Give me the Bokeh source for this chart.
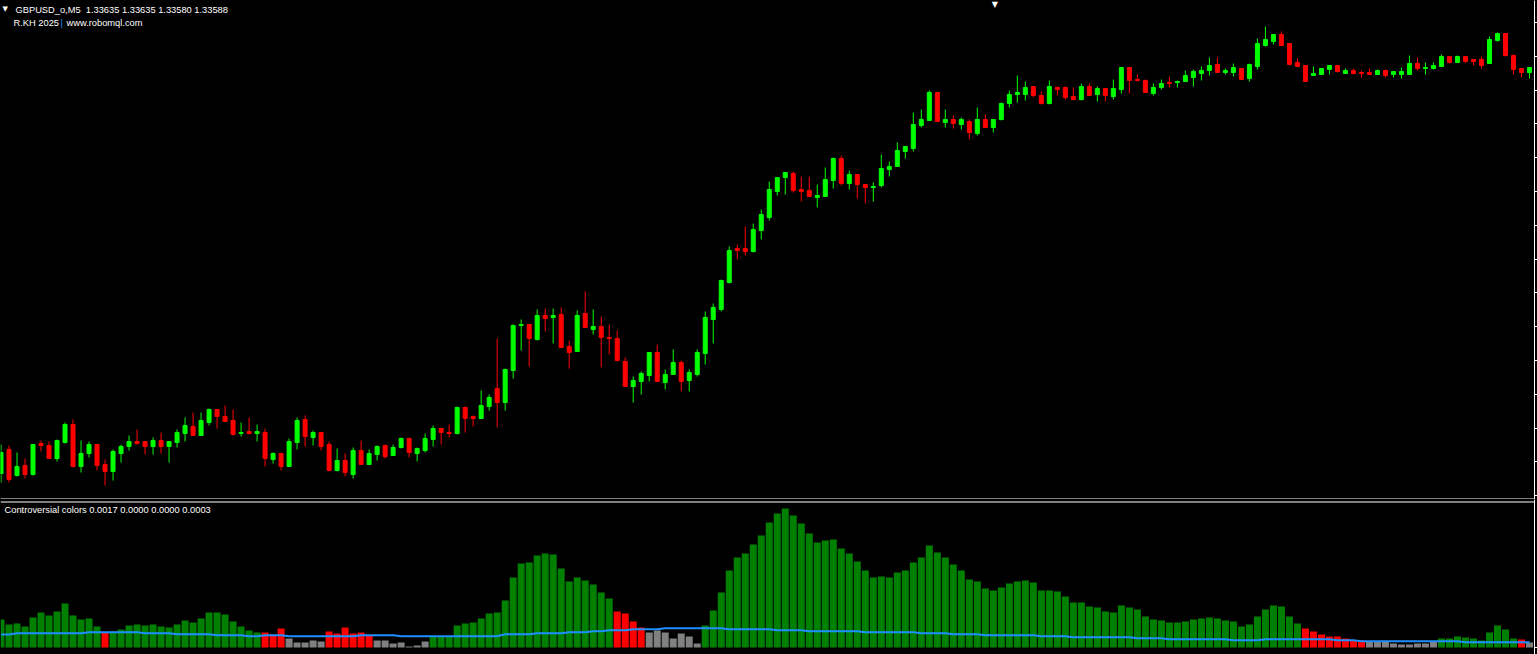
from bokeh.plotting import figure
from bokeh.models import Label, Span, FixedTicker, ColumnDataSource, Range1d, CustomJSTickFormatter
from bokeh.layouts import column
from bokeh.embed import file_html
from bokeh.resources import INLINE

# ---------------- data (GBPUSD_o, M5) ----------------
open_ = [
    1.33185, 1.33209, 1.33183, 1.33193, 1.33184, 1.33215, 1.33213, 1.33200, 1.33216, 1.33234,
    1.33192, 1.33205, 1.33214, 1.33194, 1.33187, 1.33205, 1.33212, 1.33217, 1.33217, 1.33212,
    1.33218, 1.33212, 1.33216, 1.33225, 1.33232, 1.33223, 1.33236, 1.33249, 1.33242, 1.33238,
    1.33225, 1.33227, 1.33225, 1.33226, 1.33199, 1.33205, 1.33192, 1.33216, 1.33239, 1.33221,
    1.33226, 1.33214, 1.33188, 1.33198, 1.33184, 1.33208, 1.33194, 1.33204, 1.33213, 1.33203,
    1.33211, 1.33220, 1.33205, 1.33208, 1.33219, 1.33230, 1.33226, 1.33225, 1.33251, 1.33242,
    1.33240, 1.33252, 1.33270, 1.33256, 1.33288, 1.33333, 1.33334, 1.33319, 1.33343, 1.33341,
    1.33344, 1.33312, 1.33307, 1.33345, 1.33329, 1.33332, 1.33321, 1.33320, 1.33297, 1.33272,
    1.33277, 1.33283, 1.33306, 1.33276, 1.33284, 1.33296, 1.33278, 1.33284, 1.33305, 1.33339,
    1.33349, 1.33376, 1.33410, 1.33410, 1.33407, 1.33428, 1.33441, 1.33467, 1.33481, 1.33485,
    1.33469, 1.33468, 1.33461, 1.33462, 1.33478, 1.33500, 1.33475, 1.33484, 1.33474, 1.33471,
    1.33473, 1.33489, 1.33492, 1.33507, 1.33510, 1.33533, 1.33538, 1.33566, 1.33536, 1.33539,
    1.33534, 1.33537, 1.33525, 1.33539, 1.33531, 1.33539, 1.33555, 1.33564, 1.33564, 1.33572,
    1.33563, 1.33555, 1.33571, 1.33571, 1.33562, 1.33559, 1.33572, 1.33564, 1.33570, 1.33562,
    1.33569, 1.33591, 1.33579, 1.33578, 1.33565, 1.33571, 1.33576, 1.33576, 1.33577, 1.33581,
    1.33585, 1.33588, 1.33594, 1.33586, 1.33586, 1.33590, 1.33580, 1.33592, 1.33613, 1.33617,
    1.33624, 1.33615, 1.33596, 1.33593, 1.33583, 1.33584, 1.33589, 1.33593, 1.33585, 1.33588,
    1.33586, 1.33586, 1.33584, 1.33588, 1.33584, 1.33584, 1.33584, 1.33595, 1.33590, 1.33590,
    1.33592, 1.33602, 1.33596, 1.33602, 1.33599, 1.33599, 1.33595, 1.33618, 1.33625, 1.33603,
    1.33590, 1.33586,
]
high = [
    1.33214, 1.33213, 1.33206, 1.33200, 1.33214, 1.33218, 1.33217, 1.33219, 1.33236, 1.33239,
    1.33218, 1.33217, 1.33214, 1.33199, 1.33209, 1.33214, 1.33223, 1.33229, 1.33217, 1.33221,
    1.33226, 1.33217, 1.33229, 1.33241, 1.33246, 1.33246, 1.33250, 1.33249, 1.33253, 1.33249,
    1.33236, 1.33241, 1.33234, 1.33230, 1.33206, 1.33205, 1.33220, 1.33241, 1.33243, 1.33228,
    1.33226, 1.33217, 1.33210, 1.33205, 1.33211, 1.33218, 1.33209, 1.33213, 1.33214, 1.33214,
    1.33221, 1.33221, 1.33211, 1.33225, 1.33233, 1.33230, 1.33234, 1.33252, 1.33252, 1.33243,
    1.33268, 1.33264, 1.33320, 1.33290, 1.33334, 1.33339, 1.33334, 1.33349, 1.33350, 1.33350,
    1.33351, 1.33318, 1.33348, 1.33367, 1.33349, 1.33342, 1.33334, 1.33328, 1.33301, 1.33282,
    1.33287, 1.33306, 1.33314, 1.33289, 1.33309, 1.33298, 1.33289, 1.33309, 1.33347, 1.33355,
    1.33379, 1.33412, 1.33414, 1.33432, 1.33435, 1.33449, 1.33477, 1.33481, 1.33486, 1.33487,
    1.33482, 1.33482, 1.33474, 1.33491, 1.33501, 1.33503, 1.33488, 1.33484, 1.33474, 1.33476,
    1.33504, 1.33497, 1.33516, 1.33512, 1.33546, 1.33549, 1.33568, 1.33566, 1.33549, 1.33543,
    1.33541, 1.33539, 1.33551, 1.33544, 1.33539, 1.33556, 1.33568, 1.33583, 1.33577, 1.33572,
    1.33567, 1.33578, 1.33572, 1.33572, 1.33571, 1.33575, 1.33575, 1.33572, 1.33570, 1.33579,
    1.33591, 1.33591, 1.33584, 1.33579, 1.33575, 1.33579, 1.33582, 1.33578, 1.33588, 1.33589,
    1.33592, 1.33601, 1.33601, 1.33590, 1.33595, 1.33590, 1.33595, 1.33620, 1.33632, 1.33624,
    1.33627, 1.33615, 1.33600, 1.33593, 1.33592, 1.33590, 1.33593, 1.33593, 1.33590, 1.33590,
    1.33588, 1.33590, 1.33589, 1.33589, 1.33587, 1.33591, 1.33603, 1.33601, 1.33596, 1.33596,
    1.33604, 1.33602, 1.33603, 1.33602, 1.33599, 1.33602, 1.33622, 1.33626, 1.33625, 1.33604,
    1.33590, 1.33591,
]
low = [
    1.33176, 1.33176, 1.33182, 1.33180, 1.33183, 1.33207, 1.33200, 1.33197, 1.33215, 1.33191,
    1.33186, 1.33201, 1.33188, 1.33173, 1.33178, 1.33196, 1.33208, 1.33214, 1.33204, 1.33204,
    1.33205, 1.33196, 1.33211, 1.33217, 1.33223, 1.33223, 1.33233, 1.33230, 1.33237, 1.33223,
    1.33222, 1.33224, 1.33217, 1.33192, 1.33195, 1.33188, 1.33192, 1.33209, 1.33212, 1.33213,
    1.33208, 1.33187, 1.33187, 1.33182, 1.33180, 1.33194, 1.33194, 1.33198, 1.33200, 1.33203,
    1.33210, 1.33201, 1.33197, 1.33206, 1.33212, 1.33214, 1.33221, 1.33224, 1.33226, 1.33232,
    1.33240, 1.33248, 1.33231, 1.33248, 1.33280, 1.33308, 1.33292, 1.33318, 1.33327, 1.33315,
    1.33311, 1.33290, 1.33307, 1.33331, 1.33324, 1.33291, 1.33304, 1.33297, 1.33272, 1.33256,
    1.33264, 1.33277, 1.33277, 1.33269, 1.33284, 1.33267, 1.33267, 1.33282, 1.33294, 1.33315,
    1.33347, 1.33375, 1.33399, 1.33403, 1.33406, 1.33419, 1.33438, 1.33463, 1.33464, 1.33466,
    1.33457, 1.33462, 1.33451, 1.33462, 1.33470, 1.33473, 1.33469, 1.33460, 1.33455, 1.33457,
    1.33471, 1.33482, 1.33492, 1.33500, 1.33507, 1.33531, 1.33538, 1.33537, 1.33531, 1.33530,
    1.33529, 1.33519, 1.33523, 1.33531, 1.33526, 1.33538, 1.33551, 1.33556, 1.33558, 1.33561,
    1.33554, 1.33554, 1.33563, 1.33559, 1.33558, 1.33558, 1.33563, 1.33557, 1.33557, 1.33559,
    1.33565, 1.33565, 1.33577, 1.33566, 1.33563, 1.33569, 1.33571, 1.33571, 1.33577, 1.33572,
    1.33578, 1.33583, 1.33586, 1.33584, 1.33582, 1.33579, 1.33577, 1.33589, 1.33612, 1.33614,
    1.33613, 1.33593, 1.33592, 1.33577, 1.33583, 1.33584, 1.33584, 1.33586, 1.33585, 1.33584,
    1.33581, 1.33584, 1.33584, 1.33581, 1.33581, 1.33580, 1.33584, 1.33588, 1.33584, 1.33589,
    1.33592, 1.33595, 1.33596, 1.33596, 1.33593, 1.33590, 1.33595, 1.33617, 1.33602, 1.33584,
    1.33581, 1.33580,
]
close = [
    1.33206, 1.33179, 1.33192, 1.33184, 1.33214, 1.33213, 1.33200, 1.33218, 1.33234, 1.33192,
    1.33205, 1.33214, 1.33193, 1.33187, 1.33207, 1.33212, 1.33217, 1.33215, 1.33212, 1.33218,
    1.33212, 1.33217, 1.33226, 1.33233, 1.33223, 1.33238, 1.33249, 1.33242, 1.33237, 1.33224,
    1.33226, 1.33225, 1.33227, 1.33200, 1.33205, 1.33192, 1.33217, 1.33238, 1.33222, 1.33226,
    1.33212, 1.33188, 1.33198, 1.33186, 1.33208, 1.33194, 1.33205, 1.33212, 1.33202, 1.33211,
    1.33220, 1.33206, 1.33210, 1.33220, 1.33230, 1.33226, 1.33225, 1.33251, 1.33240, 1.33240,
    1.33253, 1.33261, 1.33256, 1.33289, 1.33333, 1.33334, 1.33320, 1.33343, 1.33340, 1.33343,
    1.33311, 1.33306, 1.33343, 1.33331, 1.33332, 1.33321, 1.33320, 1.33298, 1.33272, 1.33278,
    1.33285, 1.33306, 1.33277, 1.33284, 1.33296, 1.33277, 1.33286, 1.33306, 1.33341, 1.33351,
    1.33378, 1.33408, 1.33408, 1.33407, 1.33429, 1.33444, 1.33469, 1.33481, 1.33486, 1.33468,
    1.33467, 1.33462, 1.33463, 1.33479, 1.33500, 1.33475, 1.33484, 1.33474, 1.33471, 1.33472,
    1.33490, 1.33492, 1.33508, 1.33512, 1.33534, 1.33539, 1.33566, 1.33537, 1.33539, 1.33535,
    1.33539, 1.33526, 1.33539, 1.33531, 1.33539, 1.33555, 1.33564, 1.33566, 1.33571, 1.33563,
    1.33555, 1.33572, 1.33569, 1.33561, 1.33559, 1.33572, 1.33563, 1.33570, 1.33563, 1.33570,
    1.33591, 1.33578, 1.33578, 1.33566, 1.33571, 1.33575, 1.33575, 1.33577, 1.33583, 1.33587,
    1.33588, 1.33593, 1.33586, 1.33588, 1.33591, 1.33579, 1.33594, 1.33615, 1.33619, 1.33624,
    1.33613, 1.33594, 1.33592, 1.33577, 1.33585, 1.33590, 1.33593, 1.33587, 1.33588, 1.33585,
    1.33585, 1.33584, 1.33588, 1.33583, 1.33587, 1.33587, 1.33595, 1.33590, 1.33591, 1.33593,
    1.33602, 1.33596, 1.33602, 1.33597, 1.33597, 1.33593, 1.33619, 1.33625, 1.33603, 1.33589,
    1.33586, 1.33591,
]

# indicator histogram ("Controversial colors")
hist = [
    0.00028, 0.00023, 0.00024, 0.00021, 0.00030, 0.00035, 0.00032, 0.00036, 0.00044, 0.00032,
    0.00028, 0.00029, 0.00021, 0.00015, 0.00016, 0.00018, 0.00022, 0.00023, 0.00022, 0.00023,
    0.00021, 0.00020, 0.00023, 0.00027, 0.00025, 0.00029, 0.00035, 0.00035, 0.00033, 0.00026,
    0.00021, 0.00017, 0.00015, 0.00015, 0.00013, 0.00019, 0.00009, 0.00005, 0.00005, 0.00007,
    0.00006, 0.00016, 0.00014, 0.00020, 0.00014, 0.00015, 0.00012, 0.00007, 0.00007, 0.00004,
    0.00005, 0.00001, 0.00002, 0.00006, 0.00011, 0.00011, 0.00011, 0.00022, 0.00024, 0.00025,
    0.00029, 0.00034, 0.00035, 0.00047, 0.00070, 0.00084, 0.00085, 0.00092, 0.00094, 0.00093,
    0.00079, 0.00066, 0.00070, 0.00067, 0.00063, 0.00055, 0.00049, 0.00036, 0.00034, 0.00026,
    0.00020, 0.00015, 0.00017, 0.00015, 0.00009, 0.00014, 0.00011, 0.00004, 0.00022, 0.00037,
    0.00055, 0.00077, 0.00090, 0.00094, 0.00103, 0.00112, 0.00125, 0.00134, 0.00139, 0.00132,
    0.00124, 0.00114, 0.00105, 0.00107, 0.00108, 0.00099, 0.00094, 0.00086, 0.00077, 0.00070,
    0.00071, 0.00070, 0.00075, 0.00077, 0.00085, 0.00090, 0.00102, 0.00095, 0.00090, 0.00083,
    0.00077, 0.00068, 0.00066, 0.00059, 0.00057, 0.00060, 0.00064, 0.00066, 0.00067, 0.00065,
    0.00057, 0.00057, 0.00056, 0.00051, 0.00045, 0.00045, 0.00041, 0.00040, 0.00036, 0.00035,
    0.00042, 0.00040, 0.00038, 0.00031, 0.00028, 0.00027, 0.00025, 0.00025, 0.00026, 0.00028,
    0.00029, 0.00030, 0.00029, 0.00027, 0.00026, 0.00021, 0.00023, 0.00031, 0.00038, 0.00042,
    0.00041, 0.00031, 0.00024, 0.00019, 0.00016, 0.00013, 0.00011, 0.00011, 0.00009, 0.00007,
    0.00007, 0.00006, 0.00006, 0.00006, 0.00004, 0.00003, 0.00003, 0.00004, 0.00004, 0.00006,
    0.00009, 0.00009, 0.00011, 0.00010, 0.00009, 0.00007, 0.00015, 0.00022, 0.00018, 0.00009,
    0.00008, 0.00005,
]
# G = green, R = red, N = neutral (gray)
hist_state = ("G" * 13 + "R" + "G" * 19 + "RRR" + "NNNNN" + "RRRRRR" + "NNNNNNN"
              + "G" * 23 + "RRRR" + "NNNNNNN" + "G" * 75 + "RRRRRRRR" + "NNNNNNNNN"
              + "G" * 10 + "R" + "N")
signal = [
    0.000130, 0.000130, 0.000143, 0.000143, 0.000143, 0.000143, 0.000143, 0.000143, 0.000143, 0.000143,
    0.000143, 0.000153, 0.000153, 0.000153, 0.000153, 0.000153, 0.000153, 0.000153, 0.000143, 0.000143,
    0.000143, 0.000143, 0.000133, 0.000133, 0.000133, 0.000133, 0.000133, 0.000123, 0.000123, 0.000123,
    0.000123, 0.000113, 0.000113, 0.000123, 0.000123, 0.000123, 0.000113, 0.000113, 0.000113, 0.000113,
    0.000113, 0.000113, 0.000113, 0.000113, 0.000113, 0.000123, 0.000123, 0.000123, 0.000123, 0.000123,
    0.000113, 0.000113, 0.000113, 0.000113, 0.000113, 0.000113, 0.000113, 0.000113, 0.000113, 0.000113,
    0.000113, 0.000113, 0.000113, 0.000133, 0.000133, 0.000133, 0.000133, 0.000143, 0.000143, 0.000143,
    0.000143, 0.000153, 0.000153, 0.000153, 0.000163, 0.000163, 0.000173, 0.000173, 0.000173, 0.000183,
    0.000183, 0.000183, 0.000183, 0.000193, 0.000193, 0.000193, 0.000193, 0.000193, 0.000193, 0.000193,
    0.000193, 0.000183, 0.000183, 0.000183, 0.000183, 0.000183, 0.000183, 0.000173, 0.000173, 0.000173,
    0.000173, 0.000163, 0.000163, 0.000163, 0.000163, 0.000163, 0.000163, 0.000163, 0.000153, 0.000153,
    0.000153, 0.000153, 0.000153, 0.000153, 0.000153, 0.000143, 0.000143, 0.000143, 0.000143, 0.000133,
    0.000133, 0.000133, 0.000133, 0.000123, 0.000123, 0.000123, 0.000123, 0.000123, 0.000123, 0.000123,
    0.000113, 0.000113, 0.000113, 0.000113, 0.000103, 0.000103, 0.000103, 0.000103, 0.000103, 0.000103,
    0.000103, 0.000103, 0.000093, 0.000093, 0.000093, 0.000093, 0.000083, 0.000083, 0.000083, 0.000083,
    0.000083, 0.000083, 0.000083, 0.000083, 0.000073, 0.000073, 0.000073, 0.000073, 0.000083, 0.000083,
    0.000083, 0.000083, 0.000083, 0.000083, 0.000083, 0.000083, 0.000083, 0.000073, 0.000073, 0.000073,
    0.000063, 0.000063, 0.000063, 0.000063, 0.000063, 0.000063, 0.000063, 0.000063, 0.000063, 0.000063,
    0.000063, 0.000063, 0.000063, 0.000053, 0.000053, 0.000053, 0.000053, 0.000053, 0.000053, 0.000053,
    0.000053, 0.000053,
]

title_text = "GBPUSD_o,M5\u00a0\u00a01.33635 1.33635 1.33580 1.33588"
sub_left = "R.KH 2025"
sub_sep = "|"
sub_right = "www.robomql.com"
ind_text = "Controversial colors 0.0017 0.0000 0.0000 0.0003"

# ---------------- build ----------------
n = len(close)
xs = list(range(n))
candle_color = ["#00FF00" if c > o else "#FF0000" for o, c in zip(open_, close)]
body_top = [max(o, c) for o, c in zip(open_, close)]
body_bot = [min(o, c) for o, c in zip(open_, close)]
price_src = ColumnDataSource(dict(x=xs, high=high, low=low, top=body_top,
                                  bottom=body_bot, color=candle_color))
palette = {"G": "#008000", "R": "#FF0000", "N": "#808080"}
hist_src = ColumnDataSource(dict(x=xs, top=hist, color=[palette[s] for s in hist_state]))
sig_src = ColumnDataSource(dict(x=xs, y=signal))

W = 1537
H1 = 499
H2 = 155
FONT = "Liberation Sans"
xr = Range1d(-0.0625, 191.625)


def base_figure(h, yr):
    p = figure(width=W, height=h, output_backend="svg", toolbar_location=None,
               x_range=xr, y_range=yr, x_axis_location=None, y_axis_location="right",
               background_fill_color="black", border_fill_color="black",
               outline_line_color=None, min_border_left=0, min_border_right=0,
               min_border_top=0, min_border_bottom=0)
    p.grid.visible = False
    ax = p.yaxis[0]
    ax.axis_line_color = "white"
    ax.major_tick_line_color = "white"
    ax.major_tick_out = 3
    ax.major_tick_in = 0
    ax.minor_tick_line_color = None
    ax.formatter = CustomJSTickFormatter(code="return ''")
    ax.major_label_standoff = 0
    return p


# main price pane
p1 = base_figure(H1, Range1d(1.33159, 1.33658))
p1.yaxis[0].ticker = FixedTicker(ticks=[1.33636 - i * 0.000338 for i in range(15)])
p1.segment(x0="x", y0="low", x1="x", y1="high", line_color="color", line_width=1, source=price_src)
p1.vbar(x="x", width=0.5, top="top", bottom="bottom", fill_color="color",
        line_color="color", line_width=1, source=price_src)
p1.add_layout(Span(location=1.331595, dimension="width", line_color="white", line_width=1))

p1.add_layout(Label(x=2, y=H1 - 8.5, x_units="screen", y_units="screen", text="\u25bc",
                    text_font="DejaVu Sans", text_font_size="7px", text_color="white",
                    text_baseline="middle"))
p1.add_layout(Label(x=15, y=H1 - 9, x_units="screen", y_units="screen", text=title_text,
                    text_font=FONT, text_font_size="9.3px", text_color="white",
                    text_baseline="middle"))
p1.add_layout(Label(x=13, y=H1 - 22.5, x_units="screen", y_units="screen", text=sub_left,
                    text_font=FONT, text_font_size="9.3px", text_color="white",
                    text_baseline="middle"))
p1.add_layout(Label(x=60, y=H1 - 22.5, x_units="screen", y_units="screen", text=sub_sep,
                    text_font=FONT, text_font_size="9.3px", text_color="#1E90FF",
                    text_baseline="middle"))
p1.add_layout(Label(x=66, y=H1 - 22.5, x_units="screen", y_units="screen", text=sub_right,
                    text_font=FONT, text_font_size="9.3px", text_color="white",
                    text_baseline="middle"))
p1.add_layout(Label(x=124.2, y=H1 + 1, x_units="data", y_units="screen", text="\u25bc",
                    text_font="DejaVu Sans", text_font_size="8px", text_color="white",
                    text_baseline="top", text_align="center"))

# indicator pane
p2 = base_figure(H2, Range1d(-0.00007, 0.00148))
p2.yaxis[0].ticker = FixedTicker(ticks=[0.0])
p2.vbar(x="x", width=0.875, top="top", bottom=0, fill_color="color", line_color=None,
        source=hist_src)
p2.line(x="x", y="y", line_color="#1E90FF", line_width=2, source=sig_src)
p2.add_layout(Span(location=0.001455, dimension="width", line_color="white", line_width=1))
p2.add_layout(Label(x=4, y=H2 - 10.5, x_units="screen", y_units="screen", text=ind_text,
                    text_font=FONT, text_font_size="9.3px", text_color="white",
                    text_baseline="middle"))

layout = column(p1, p2, spacing=0)
layout.background = "black"

open("out.html", "w").write(file_html(layout, INLINE))
